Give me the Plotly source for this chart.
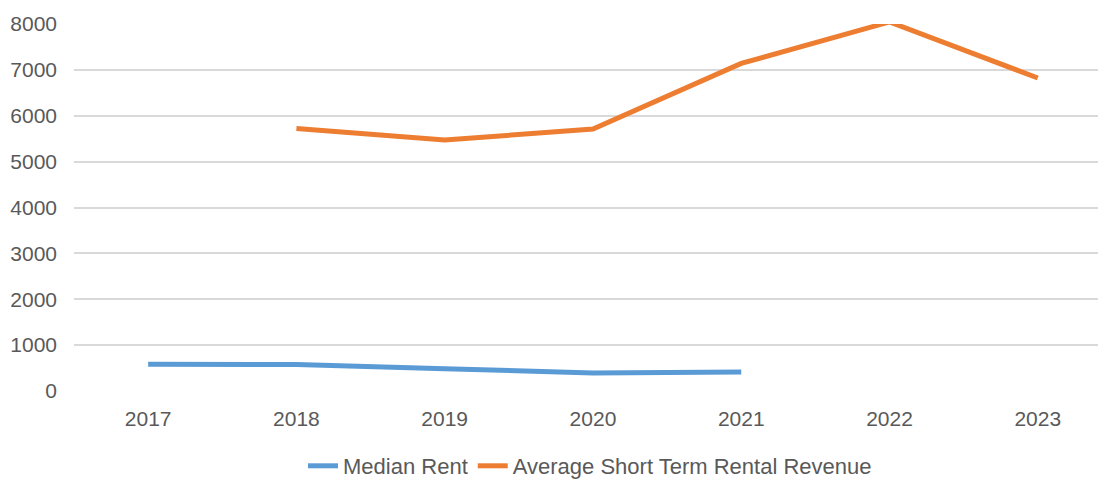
import plotly.graph_objects as go

years = ["2017", "2018", "2019", "2020", "2021", "2022", "2023"]
median_rent = [583, 575, 485, 393, 415, None, None]
avg_str_revenue = [None, 5720, 5470, 5710, 7140, 8045, 6823]
y_ticks = [0, 1000, 2000, 3000, 4000, 5000, 6000, 7000, 8000]

fig = go.Figure()
fig.add_trace(go.Scatter(x=years, y=median_rent, mode="lines", name="Median Rent",
                         line=dict(color="#5B9BD5", width=5), cliponaxis=False))
fig.add_trace(go.Scatter(x=years, y=avg_str_revenue, mode="lines",
                         name="Average Short Term Rental Revenue",
                         line=dict(color="#ED7D31", width=5), cliponaxis=False))

W, H = 1098, 471
font = dict(family="Liberation Sans, Arial, sans-serif", size=21, color="#595959")
legend_font = dict(family="Liberation Sans, Arial, sans-serif", size=22, color="#595959")
fig.update_layout(
    width=W, height=H,
    margin=dict(l=66, r=0, t=16, b=88, autoexpand=False),
    plot_bgcolor="white", paper_bgcolor="white",
    font=font,
    showlegend=True,
    legend=dict(orientation="h", x=0.5, xanchor="center", xref="paper",
                y=13 / H, yanchor="middle", yref="container",
                font=legend_font, itemwidth=30),
    xaxis=dict(type="category", range=[-0.5, 6.46], showgrid=False, showline=False,
               ticks="", tickfont=font, ticklabelstandoff=13, automargin=False),
    yaxis=dict(range=[0, 8000], tickvals=y_ticks, showgrid=True, gridcolor="#D9D9D9",
               gridwidth=1.5, zeroline=False, showline=False, tickfont=font, ticks="",
               ticklabelstandoff=16, automargin=False),
)
fig.write_html("out.html")
